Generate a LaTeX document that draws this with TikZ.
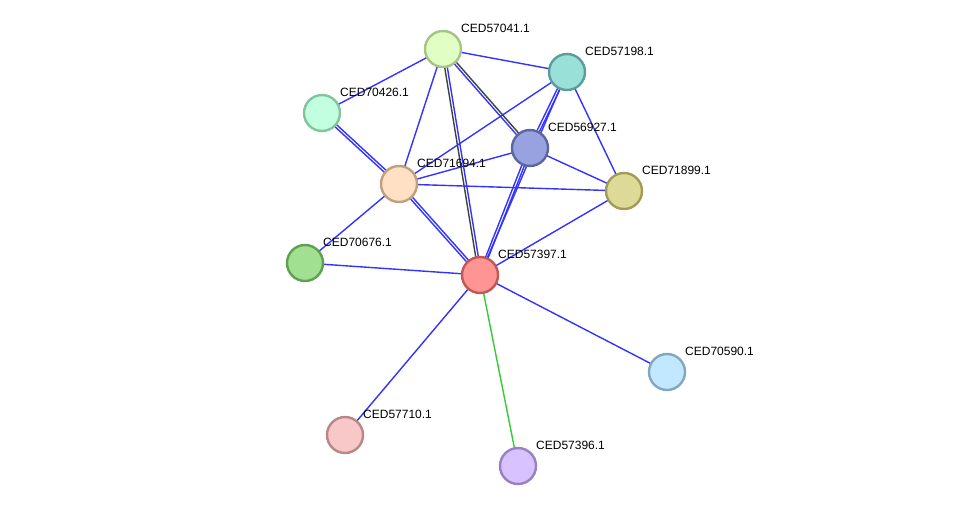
\documentclass[tikz,border=0pt]{standalone}
\usepackage{fontspec}
\setmainfont{Liberation Sans}
\usetikzlibrary{calc,backgrounds}
\definecolor{eblue}{HTML}{3333FF}
\definecolor{egreen}{HTML}{33CC33}
\definecolor{egray}{HTML}{404040}
\tikzset{
  prot/.style={circle, draw, line width=2.4pt, minimum size=36pt, inner sep=0pt},
  plabel/.style={anchor=base west, font=\fontsize{12pt}{14pt}\selectfont, inner sep=0pt},
  bedge/.style={draw=eblue, line width=1.4pt},
  kedge/.style={draw=egray, line width=1.4pt},
  gedge/.style={draw=egreen, line width=1.4pt},
}
\newcommand{\protnode}[6]{%
  \definecolor{f#1}{HTML}{#4}\definecolor{d#1}{HTML}{#5}%
  \node[prot, fill=f#1, draw=d#1] (#1) at (#2,#3) {};
  \node[plabel] (#1l) at (#2+18,#3-17) {#6};
}
\newcommand{\dedge}[4]{% a b style1 style2
  \draw[#3] ($(#1.center)!1.3pt!90:(#2.center)$) -- ($(#2.center)!1.3pt!-90:(#1.center)$);
  \draw[#4] ($(#1.center)!1.3pt!-90:(#2.center)$) -- ($(#2.center)!1.3pt!90:(#1.center)$);
}
\begin{document}
\begin{tikzpicture}[x=1pt,y=-1pt]
\useasboundingbox (0,0) rectangle (976,512);
\protnode{a57041}{443}{49}{E1FFC4}{A6C488}{CED57041.1}
\protnode{a57198}{567}{72}{99E0D8}{5B9E98}{CED57198.1}
\protnode{a70426}{322}{113}{C2FFE0}{80C4A0}{CED70426.1}
\protnode{a56927}{530}{148}{98A2E0}{5C66A0}{CED56927.1}
\protnode{a71694}{399}{184}{FFE0C4}{C0A080}{CED71694.1}
\protnode{a71899}{624}{191}{DDDA98}{A09C58}{CED71899.1}
\protnode{a70676}{305}{263}{A0E090}{60A050}{CED70676.1}
\protnode{a57397}{480}{275}{FF9494}{C05858}{CED57397.1}
\protnode{a70590}{667}{372}{C2E8FF}{80A8C0}{CED70590.1}
\protnode{a57710}{345}{435}{F8C8C8}{B88888}{CED57710.1}
\protnode{a57396}{518}{466}{D8C2FF}{9880C4}{CED57396.1}
\begin{pgfonlayer}{background}
\draw[bedge] (a57041.center) -- (a70426.center);
\draw[bedge] (a57041.center) -- (a57198.center);
\draw[bedge] (a57041.center) -- (a71694.center);
\dedge{a57041}{a57397}{bedge}{kedge}
\dedge{a57041}{a56927}{kedge}{bedge}
\draw[bedge] (a57198.center) -- (a71694.center);
\dedge{a57198}{a56927}{bedge}{bedge}
\draw[bedge] (a57198.center) -- (a71899.center);
\draw[bedge] (a57198.center) -- (a57397.center);
\dedge{a70426}{a71694}{bedge}{bedge}
\dedge{a71694}{a57397}{bedge}{bedge}
\draw[bedge] (a71694.center) -- (a56927.center);
\draw[bedge] (a71694.center) -- (a71899.center);
\draw[bedge] (a71694.center) -- (a70676.center);
\draw[bedge] (a56927.center) -- (a71899.center);
\dedge{a56927}{a57397}{bedge}{bedge}
\draw[bedge] (a71899.center) -- (a57397.center);
\draw[bedge] (a70676.center) -- (a57397.center);
\draw[bedge] (a57397.center) -- (a70590.center);
\draw[bedge] (a57397.center) -- (a57710.center);
\draw[gedge] (a57397.center) -- (a57396.center);
\end{pgfonlayer}
\end{tikzpicture}
\end{document}
